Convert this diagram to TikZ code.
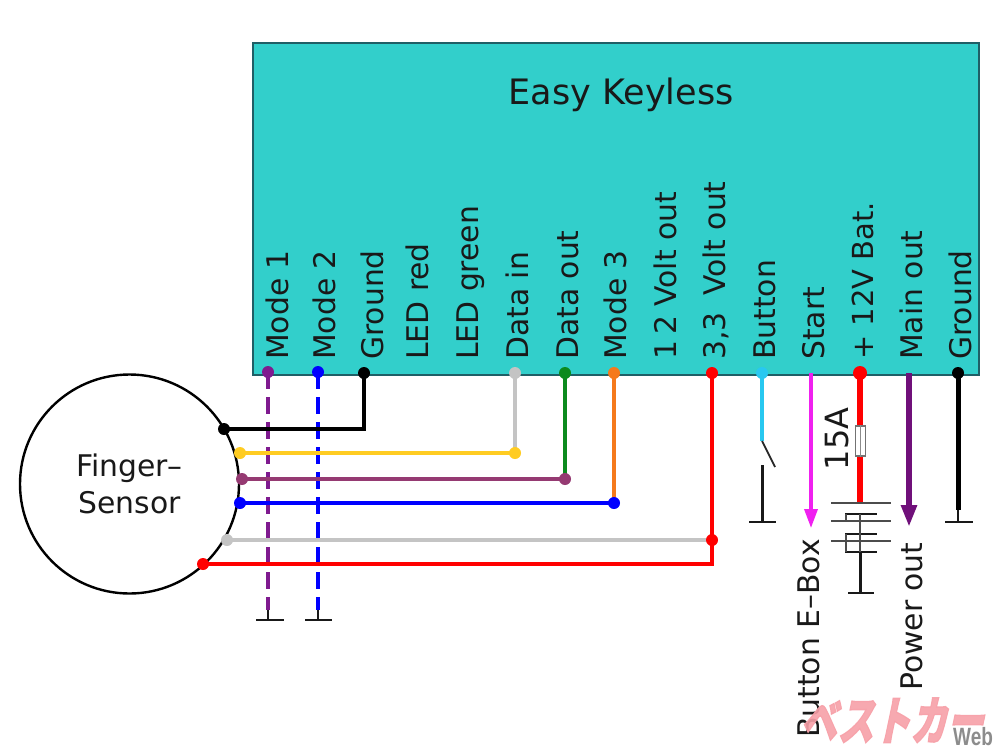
\documentclass[tikz,border=0pt]{standalone}
\usepackage{fontspec}
\usepackage{graphicx}
\usetikzlibrary{arrows.meta}
\setmainfont{DejaVu Sans}
\newfontfamily\wmfont[FakeSlant=0.3,FakeBold=2.5]{Noto Sans CJK JP}
\newfontfamily\webfont{Liberation Sans}
\definecolor{boxfill}{HTML}{32CFCB}
\definecolor{boxline}{HTML}{1F5F66}
\definecolor{modepurple}{HTML}{7F1A8F}
\definecolor{wirecyan}{HTML}{28C8F0}
\definecolor{wireyellow}{HTML}{FFCC22}
\definecolor{wireplum}{HTML}{953A72}
\definecolor{wiregrey}{HTML}{C4C4C4}
\definecolor{wiregreen}{HTML}{0C8A1E}
\definecolor{wireorange}{HTML}{F57A1C}
\definecolor{wiremagenta}{HTML}{F020F0}
\definecolor{powerpurple}{HTML}{70107A}
\definecolor{wmpink}{HTML}{F7A0A8}
\tikzset{
  x=1pt,y=-1pt,
  pinlabel/.style={rotate=90,anchor=base west,inner sep=0pt,font=\fontsize{29.8}{30}\selectfont,text=black!90},
  dot/.style={circle,fill=#1,inner sep=0pt,minimum size=12pt},
  wire/.style={draw=#1,line width=3.2pt},
  thickwire/.style={draw=#1,line width=6pt},
  dashwire/.style={draw=#1,line width=3.2pt,dash pattern=on 17pt off 8pt},
  bar/.style={draw=black!90,line width=2.6pt},
  thinbar/.style={draw=black!70,line width=1.4pt},
  anchorpt/.style={inner sep=0pt,minimum size=0pt}
}
\begin{document}
\begin{tikzpicture}
\useasboundingbox (0,0) rectangle (1000,750);
\fill[white] (0,0) rectangle (1000,750);
% main box
\node[draw=boxline,fill=boxfill,line width=1.6pt,minimum width=726pt,minimum height=332pt,anchor=north west,inner sep=0pt] (box) at (252,42) {};
\node[font=\fontsize{35}{35}\selectfont,text=black!90,inner sep=0pt] (title) at (621,95) {Easy Keyless};
% labels
\node[pinlabel] (lA) at (288,360) {Mode 1};
\node[pinlabel] (lB) at (335,360) {Mode 2};
\node[pinlabel] (lC) at (383,360) {Ground};
\node[pinlabel] (lD) at (428,360) {LED red};
\node[pinlabel] (lE) at (478,360) {LED green};
\node[pinlabel] (lF) at (528,360) {Data in};
\node[pinlabel] (lG) at (578,360) {Data out};
\node[pinlabel] (lH) at (626,360) {Mode 3};
\node[pinlabel] (lI) at (676,360) {1\kern6pt 2 Volt out};
\node[pinlabel] (lJ) at (725,360) {3,3\kern7pt{} Volt out};
\node[pinlabel] (lK) at (775,360) {Button};
\node[pinlabel] (lL) at (824,360) {Start};
\node[pinlabel,font=\fontsize{29}{30}\selectfont] (lM) at (873,360) {+ 12V Bat.};
\node[pinlabel] (lN) at (922,360) {Main out};
\node[pinlabel] (lO) at (971,360) {Ground};
% sensor
\node[circle,draw=black,fill=white,line width=2.4pt,minimum size=219pt,inner sep=0pt,
  align=center,font=\fontsize{29.8}{37}\selectfont,text=black!90] (sensor) at (129.5,484) {Finger–\\Sensor};
% pin coordinates
\node[anchorpt] (pA) at (268,372) {};
\node[anchorpt] (pB) at (318,372) {};
\node[anchorpt] (pC) at (364,373) {};
\node[anchorpt] (pF) at (515,373) {};
\node[anchorpt] (pG) at (565,373) {};
\node[anchorpt] (pH) at (614,373) {};
\node[anchorpt] (pJ) at (712,373) {};
\node[anchorpt] (pK) at (762,373) {};
\node[anchorpt] (pL) at (811,373) {};
\node[anchorpt] (pM) at (860,373) {};
\node[anchorpt] (pN) at (909,373) {};
\node[anchorpt] (pO) at (958,373) {};
% sensor contacts
\node[anchorpt] (sBlack) at (224,429) {};
\node[anchorpt] (sYellow) at (240,453) {};
\node[anchorpt] (sPlum) at (242,479) {};
\node[anchorpt] (sBlue) at (240,503) {};
\node[anchorpt] (sGrey) at (227,540) {};
\node[anchorpt] (sRed) at (203,564) {};
% junctions
\node[anchorpt] (jYellow) at (515,453) {};
\node[anchorpt] (jPlum) at (565,479) {};
\node[anchorpt] (jBlue) at (614,503) {};
\node[anchorpt] (jGrey) at (712,540) {};
\node[anchorpt] (jRed) at (712,564) {};
% dashed mode wires with grounds
\coordinate (gA) at (268,610); \coordinate (gAb) at (268,620);
\coordinate (gB) at (318,610); \coordinate (gBb) at (318,620);
\draw[dashwire=modepurple] (pA) -- (gA);
\draw[dashwire=blue] (pB) -- (gB);
\draw[bar] (gA) -- (gAb); \draw[bar] (256,620) -- (284,620);
\draw[bar] (gB) -- (gBb); \draw[bar] (305,620) -- (332,620);
% wires
\draw[wire=black] (sBlack.center) -| (pC.center);
\draw[wire=wiregrey] (pF.center) -- (jYellow.center);
\draw[wire=wireyellow] (jYellow.center) -- (sYellow.center);
\draw[wire=wiregreen] (pG.center) -- (jPlum.center);
\draw[wire=wireplum] (jPlum.center) -- (sPlum.center);
\draw[wire=wireorange] (pH.center) -- (jBlue.center);
\draw[wire=blue] (jBlue.center) -- (sBlue.center);
\draw[wire=wiregrey] (jGrey.center) -- (sGrey.center);
\draw[wire=red] (pJ.center) -- (jRed.center) -- (sRed.center);
% button
\coordinate (swA) at (762,441);
\coordinate (swB) at (775,467);
\coordinate (swC) at (762.5,465);
\coordinate (swD) at (762.5,522);
\draw[draw=wirecyan,line width=3.6pt] (pK.center) -- (swA);
\draw[draw=black!85,line width=1.8pt] (swA) -- (swB);
\draw[bar] (swC) -- (swD);
\draw[bar] (749,522) -- (776,522);
% start
\coordinate (endL) at (811,528);
\draw[draw=wiremagenta,line width=3.4pt,-{Triangle[length=19pt,width=13pt]}] (pL.center) -- (endL);
% fuse and battery
\coordinate (batTop) at (860,504);
\draw[thickwire=red] (pM.center) -- (batTop);
\node[draw=black!55,fill=white,line width=1.2pt,minimum width=10pt,minimum height=30pt,inner sep=0pt] (fuse) at (860.5,441) {};
\draw[draw=black!45,line width=1pt] (fuse.north) -- (fuse.south);
\node[rotate=90,font=\fontsize{32}{32}\selectfont,anchor=base,inner sep=0pt,text=black!90] (amp) at (848,439) {15A};
\draw[thinbar] (831,503) -- (891,503);
\draw[bar] (845,514) -- (877,514);
\draw[thinbar] (831,521) -- (891,521);
\draw[bar] (845,534) -- (877,534);
\draw[thinbar] (831,541) -- (891,541);
\draw[bar] (845,552) -- (877,552);
\draw[thinbar] (860,514) -- (860,552);
\draw[thinbar] (846,514) -- (846,521);
\draw[thinbar] (846,534) -- (846,552);
\draw[bar] (860.5,552) -- (860.5,593);
\draw[bar] (848,593) -- (874,593);
% power out
\coordinate (endN) at (909,527);
\draw[draw=powerpurple,line width=6pt,-{Triangle[length=22pt,width=15pt]}] (pN.center) -- (endN);
% ground
\coordinate (gO) at (958,522);
\draw[draw=black,line width=5pt] (pO.center) -- (958,510);
\draw[bar] (958,510) -- (gO);
\draw[bar] (945,522) -- (973,522);
% dots
\node[dot=modepurple] at (pA) {};
\node[dot=blue] at (pB) {};
\node[dot=black] at (pC) {};
\node[dot=wiregrey] at (pF) {};
\node[dot=wiregreen] at (pG) {};
\node[dot=wireorange] at (pH) {};
\node[dot=red] at (pJ) {};
\node[dot=wirecyan] at (pK) {};
\node[dot=red,minimum size=14pt] at (pM) {};
\node[dot=black] at (pO) {};
\node[dot=black] at (sBlack) {};
\node[dot=wireyellow] at (sYellow) {};
\node[dot=wireplum] at (sPlum) {};
\node[dot=blue] at (sBlue) {};
\node[dot=wiregrey] at (sGrey) {};
\node[dot=red] at (sRed) {};
\node[dot=wireyellow] at (jYellow) {};
\node[dot=wireplum] at (jPlum) {};
\node[dot=blue] at (jBlue) {};
\node[dot=red] at (jGrey) {};
% bottom labels
\node[pinlabel] (lP) at (819,738) {Button E–Box};
\node[pinlabel] (lQ) at (922,691) {Power out};
% watermark
\node[anchor=base west,inner sep=0pt,font=\wmfont\bfseries\fontsize{52}{52}\selectfont,text=wmpink,opacity=.9] (wm) at (800,740) {\scalebox{.7}[1]{ベストカー}};
\node[anchor=base west,inner sep=0pt,font=\webfont\bfseries\fontsize{25}{25}\selectfont,text=black!45] (web) at (953,745) {\scalebox{.76}[1]{Web}};
\end{tikzpicture}
\end{document}
